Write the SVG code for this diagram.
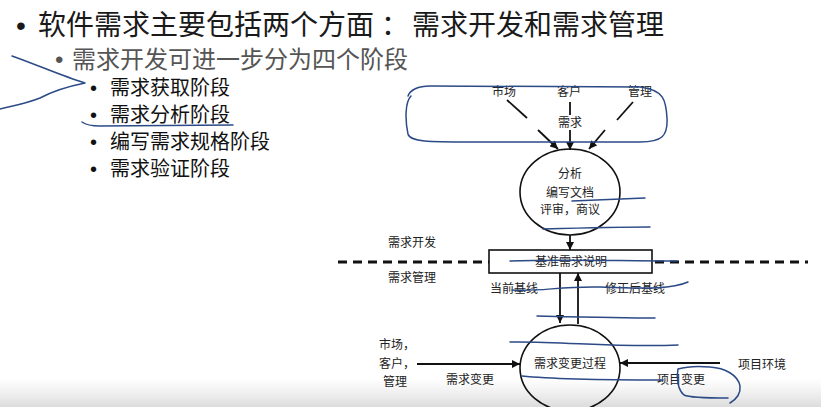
<svg xmlns="http://www.w3.org/2000/svg" width="821" height="407" viewBox="0 0 821 407">
<defs>
<style>
.t1{font-family:"Liberation Sans","Noto Sans CJK SC",sans-serif;font-size:28px;fill:#1a1a1a}
.t2{font-family:"Liberation Sans","Noto Sans CJK SC",sans-serif;font-size:24px;fill:#555}
.t3{font-family:"Liberation Sans","Noto Sans CJK SC",sans-serif;font-size:20px;fill:#111}
.d{font-family:"Noto Sans CJK SC",sans-serif;font-size:12px;fill:#222}
.c{text-anchor:middle}
.ln{stroke:#111;stroke-width:1.8;fill:none}
.shape{stroke:#111;stroke-width:1.6;fill:none}
.pen{stroke:#2b4a86;stroke-width:1.5;fill:none;stroke-linecap:round;stroke-linejoin:round}
</style>
<marker id="ah" viewBox="0 0 10 10" refX="10" refY="5" markerWidth="9" markerHeight="8" markerUnits="userSpaceOnUse" orient="auto">
<path d="M0,0 L10,5 L0,10 z" fill="#111"/>
</marker>
<linearGradient id="shade" x1="0" y1="0" x2="0" y2="1">
<stop offset="0" stop-color="#e6e6e6" stop-opacity="0"/>
<stop offset="1" stop-color="#dcdcdc" stop-opacity="1"/>
</linearGradient>
</defs>
<rect x="0" y="0" width="821" height="407" fill="#fff"/>
<rect x="0" y="378" width="821" height="29" fill="url(#shade)"/>

<g id="bullets">
<text class="t1" x="16" y="35">•</text>
<text class="t1" x="38" y="35">软件需求主要包括两个方面</text>
<text class="t1" x="381" y="35">：</text>
<text class="t1" x="412" y="35">需求开发和需求管理</text>
<text class="t2" x="55" y="68">•</text>
<text class="t2" x="72" y="68">需求开发可进一步分为四个阶段</text>
<text class="t3" x="90" y="95">•</text>
<text class="t3" x="110" y="95">需求获取阶段</text>
<text class="t3" x="90" y="122">•</text>
<text class="t3" x="110" y="122">需求分析阶段</text>
<text class="t3" x="90" y="149">•</text>
<text class="t3" x="110" y="149">编写需求规格阶段</text>
<text class="t3" x="90" y="176">•</text>
<text class="t3" x="110" y="176">需求验证阶段</text>
</g>

<g id="sources">
<text class="d c" x="504" y="96">市场</text>
<text class="d c" x="569" y="96">客户</text>
<text class="d c" x="640" y="96">管理</text>
<text class="d c" x="570" y="127">需求</text>
</g>

<g id="analysis">
<ellipse class="shape" cx="570" cy="192" rx="50" ry="43"/>
<text class="d c" x="570" y="178">分析</text>
<text class="d c" x="570" y="197">编写文档</text>
<text class="d c" x="570" y="214">评审，商议</text>
</g>

<g id="baseline">
<rect class="shape" x="489" y="250" width="163" height="23" fill="#fff"/>
<text class="d c" x="571" y="266">基准需求说明</text>
</g>

<g id="change">
<ellipse class="shape" cx="570" cy="368" rx="50" ry="43"/>
<text class="d c" x="570" y="368">需求变更过程</text>
</g>

<g id="left-sources">
<text class="d" x="379" y="349">市场，</text>
<text class="d" x="379" y="368">客户，</text>
<text class="d" x="383" y="386">管理</text>
</g>

<g id="env">
<text class="d" x="738" y="369">项目环境</text>
</g>

<g id="labels">
<text class="d" x="388" y="247">需求开发</text>
<text class="d" x="388" y="282">需求管理</text>
<text class="d" x="490" y="293">当前基线</text>
<text class="d" x="605" y="293">修正后基线</text>
<text class="d" x="446" y="384">需求变更</text>
<text class="d" x="657" y="384">项目变更</text>
</g>

<g id="connectors">
<line class="ln" x1="507" y1="100" x2="527" y2="118"/>
<line class="ln" x1="538" y1="130" x2="558" y2="149" marker-end="url(#ah)"/>
<line class="ln" x1="570" y1="102" x2="570" y2="115"/>
<line class="ln" x1="570" y1="130" x2="570" y2="150" marker-end="url(#ah)"/>
<line class="ln" x1="633" y1="102" x2="617" y2="120"/>
<line class="ln" x1="605" y1="130" x2="589" y2="149" marker-end="url(#ah)"/>
<line class="ln" x1="570" y1="235" x2="570" y2="250" marker-end="url(#ah)"/>
<line x1="338" y1="262" x2="489" y2="262" stroke="#111" stroke-width="3" stroke-dasharray="9 6"/>
<line x1="655" y1="262" x2="808" y2="262" stroke="#111" stroke-width="3" stroke-dasharray="9 6"/>
<line class="ln" x1="560" y1="273" x2="560" y2="323" marker-end="url(#ah)"/>
<line class="ln" x1="578" y1="324" x2="578" y2="273" marker-end="url(#ah)"/>
<line class="ln" x1="417" y1="364" x2="520" y2="364" marker-end="url(#ah)"/>
<line class="ln" x1="720" y1="363" x2="620" y2="363" marker-end="url(#ah)"/>
</g>

<g id="annotations">
<path class="pen" d="M12,56 C40,66 62,76 85,83 C70,86 55,90 40,98 C25,104 12,106 0,109"/>
<path class="pen" d="M82,122 C86,125 92,126 100,126 L233,125"/>
<path class="pen" d="M411,96 C405,102 405,120 408,134 C410,142 430,142 470,142 L640,142 C662,142 668,136 667,118 C666,100 664,90 640,87 L430,86 C418,86 410,90 408,96"/>
<path class="pen" d="M572,201 C600,200 625,199 645,198"/>
<path class="pen" d="M543,229 C580,228 620,227 650,227"/>
<path class="pen" d="M510,261 C560,259 620,261 677,261"/>
<path class="pen" d="M512,290 C540,292 560,286 600,287 C640,288 670,290 688,282"/>
<path class="pen" d="M537,316 C580,317 620,318 655,318"/>
<path class="pen" d="M510,342 C560,341 620,348 678,345"/>
<path class="pen" d="M522,376 C560,380 620,380 663,380"/>
<path class="pen" d="M710,367 C725,368 738,375 740,386 C741,395 735,400 730,403 M728,398 C710,398 690,398 684,395 C678,390 676,378 678,369 C688,366 700,366 710,367"/>
</g>
</svg>
